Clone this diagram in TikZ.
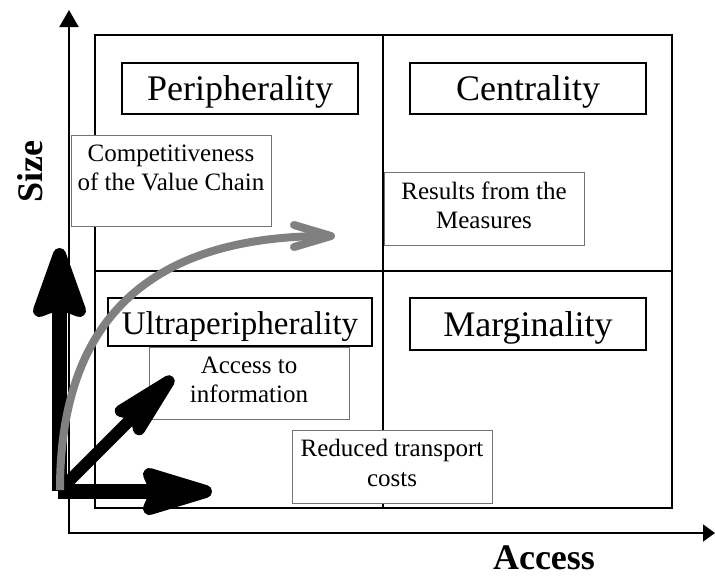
\documentclass[tikz,border=0pt]{standalone}
\usepackage{fontspec}
\setmainfont{Liberation Serif}
\usetikzlibrary{arrows.meta}
\newcommand{\boxtext}[3]{\parbox[c][#1][t]{198pt}{\centering\vspace*{8.5pt}#2\\#3}}
\begin{document}
\begin{tikzpicture}[x=1pt,y=-1pt,
  quadframe/.style={line width=2.2pt},
  axisline/.style={line width=2pt,{Triangle[length=17pt,width=19pt]}-{Triangle[length=12pt,width=17pt]}},
  bigbox/.style={draw, line width=2.6pt, fill=white, inner sep=0pt,
    font=\fontsize{36}{40}\selectfont, text height=28pt, text depth=4pt},
  thinbox/.style={draw=black!55, line width=1pt, fill=white, inner sep=0pt,
    minimum width=200pt, font=\fontsize{25}{29.5}\selectfont},
  axislabel/.style={font=\bfseries\fontsize{36}{40}\selectfont},
  blackshaft/.style={line width=#1},
  blackhead/.style={fill=black, draw=black, line width=#1, line join=round},
  grayarrow/.style={draw=gray, line width=8pt,-{Straight Barb[round,length=37pt,width=22pt]}}
]
\useasboundingbox (0,0) rectangle (715,576);

% quadrant frame
\draw[quadframe] (95,35) rectangle (672,508);
\draw[quadframe] (383,35) -- (383,508);
\draw[quadframe] (95,271) -- (672,271);

% axes
\coordinate (ytop) at (69,10);
\coordinate (corner) at (69,533);
\coordinate (xend) at (715,533);
\draw[axisline] (ytop) -- (corner) -- (xend);
\node[axislabel, rotate=90, anchor=base] (size) at (42,172) {Size};
\node[axislabel, anchor=base] (access) at (544,569.5) {Access};

% thin text boxes
\node[thinbox, minimum height=91pt] (compet) at (171,180.5)
  {\boxtext{89pt}{Competitiveness}{of the Value Chain}};
\node[thinbox, minimum height=73pt] (results) at (484,208.5)
  {\boxtext{71pt}{Results from the}{Measures}};
\node[thinbox, minimum height=72pt] (info) at (249,383)
  {\boxtext{70pt}{Access to}{information}};
\node[thinbox, minimum height=73pt] (transport) at (392,466.5)
  {\boxtext{71pt}{Reduced transport}{costs}};

% quadrant titles
\node[bigbox, minimum width=236pt, minimum height=51pt] (periph) at (240,88.5) {Peripherality};
\node[bigbox, minimum width=236pt, minimum height=51pt] (central) at (528,88.5) {Centrality};
\node[bigbox, minimum width=264pt, minimum height=48pt,
  font=\fontsize{33}{38}\selectfont] (ultra) at (240,322) {Ultraperipherality};
\node[bigbox, minimum width=236pt, minimum height=52pt] (marg) at (528,324) {Marginality};

% thick black arrows (shaft + rounded head)
% vertical
\coordinate (vbase) at (59.5,491);
\coordinate (vneck) at (59.5,303);
\coordinate (vtip) at (59.5,254.5);
\coordinate (vl) at (39.5,310.5);
\coordinate (vr) at (79.5,310.5);
\draw[blackshaft=15pt] (vbase) -- (vneck);
\filldraw[blackhead=13pt] (vl) -- (vtip) -- (vr) -- (vneck) -- cycle;
% horizontal
\coordinate (hbase) at (58,491.5);
\coordinate (hneck) at (157,491.5);
\coordinate (htip) at (205.5,491.5);
\coordinate (hl) at (149.5,474.5);
\coordinate (hr) at (149.5,508.5);
\draw[blackshaft=15pt] (hbase) -- (hneck);
\filldraw[blackhead=13pt] (hl) -- (htip) -- (hr) -- (hneck) -- cycle;
% diagonal
\coordinate (dbase) at (62,488);
\coordinate (dneck) at (135.5,414.5);
\coordinate (dtip) at (168.8,381.2);
\coordinate (dl) at (120.7,410.9);
\coordinate (dr) at (139.1,429.3);
\draw[blackshaft=12pt] (dbase) -- (dneck);
\filldraw[blackhead=12pt] (dl) -- (dtip) -- (dr) -- (dneck) -- cycle;

% gray curved arrow
\coordinate (gstart) at (60,490);
\coordinate (gend) at (335,236);
\draw[grayarrow] (gstart) .. controls (60,310) and (160,236) .. (gend);
\end{tikzpicture}
\end{document}
